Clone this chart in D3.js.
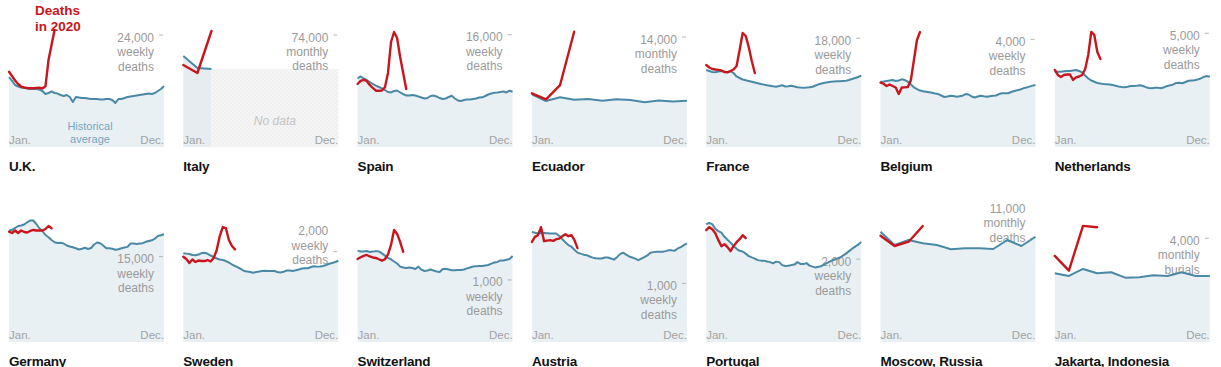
<!DOCTYPE html>
<html>
<head>
<meta charset="utf-8">
<script src="https://cdn.jsdelivr.net/npm/d3@7"></script>
<style>
    body { margin: 0; background: #fff; }
    #chart text { font-family: "Liberation Sans", Arial, sans-serif; }
</style>
</head>
<body>
<div id="chart"></div>
<script>
// chart.js

const places = ["U.K.", "Italy", "Spain", "Ecuador", "France", "Belgium", "Netherlands",
    "Germany", "Sweden", "Switzerland", "Austria", "Portugal", "Moscow, Russia", "Jakarta, Indonesia"];
const frequency = ["weekly", "monthly", "weekly", "monthly", "weekly", "weekly", "weekly",
    "weekly", "weekly", "weekly", "weekly", "weekly", "monthly", "monthly"];
const unitWord = ["deaths", "deaths", "deaths", "deaths", "deaths", "deaths", "deaths",
    "deaths", "deaths", "deaths", "deaths", "deaths", "deaths", "burials"];
const tickValues = [24000, 74000, 16000, 14000, 18000, 4000, 5000, 15000, 2000, 1000, 1000, 2000, 11000, 4000];
const scaleTop = [24860, 76640, 16530, 14770, 19210, 4310, 5100, 20390, 2570, 1870, 1980, 2800, 12310, 4470];

const ukHistorical = [15000,14150,13290,12970,12750,12640,12540,12430,12430,12430,12320,12000,11360,11570,11890,11570,11460,11140,10930,11140,10710,9640,10710,10610,10500,10500,10390,10290,10290,10290,10180,10180,10290,10290,10070,9430,10290,10290,10500,10710,10820,10930,11040,11140,11250,11360,11460,11360,11570,12000,12430,13070];
const ukDeaths2020 = [16140,15210,14250,13500,12960,12750,12640,12580,12580,12640,12710,12540,13000,18640,21860,25070];

const italyHistorical = [60120, 52200, 51530];
const italyDeaths2020 = [54180, 48890, 76640];

const spainHistorical = [9790,10050,9760,9550,9260,8980,8760,8550,8340,8120,7840,7770,7980,8050,7770,7550,7340,7340,7410,7340,7200,7050,6910,6980,7270,7340,7200,6980,6840,6910,7130,7310,6910,6630,6560,6700,6770,6770,6840,6910,7050,7080,7270,7480,7620,7720,7770,7840,7910,7770,8020,7880];
const spainDeaths2020 = [8980,9410,9550,9410,8840,8410,8020,8020,8050,8510,10550,14960,16390,15530,12830,10550,8270];

const ecuadorHistorical = [6710,5860,6330,6020,6110,5890,6070,5980,5690,5920,5790,5890];
const ecuadorDeaths2020 = [6840,6070,7890,14680];

const franceHistorical = [12750,12590,12420,12370,12500,12590,12450,12420,12550,12250,11680,11430,11180,11050,10930,10800,10670,10550,10430,10330,10220,10140,10050,9990,10100,10230,10020,10050,10150,10020,9900,9850,9820,9850,9900,9970,10180,10380,10520,10630,10730,10800,10850,10880,10900,10930,10960,11100,11260,11430,11590,11810];
const franceDeaths2020 = [13580,13170,12920,12830,12780,12670,12420,12370,12590,12830,13410,16060,18880,18380,16560,14240,12250];

const belgiumHistorical = [2425,2433,2451,2470,2488,2451,2470,2514,2488,2425,2321,2217,2154,2098,2069,2050,2032,2013,1987,1968,1913,1857,1876,1902,1894,1868,1887,1905,1968,1950,1876,1838,1876,1902,1883,1868,1887,1902,1913,1968,1994,1994,1998,2043,2080,2110,2136,2180,2210,2243,2280,2303];
const belgiumDeaths2020 = [2388,2351,2266,2321,2266,2210,1968,2210,2217,2228,2488,3231,3974,4271];

const netherlandsHistorical = [3312,3312,3312,3329,3342,3342,3364,3386,3342,3277,3145,3013,2925,2867,2815,2788,2771,2758,2744,2727,2692,2656,2639,2626,2652,2683,2683,2692,2718,2683,2630,2595,2586,2604,2608,2586,2630,2683,2714,2749,2815,2823,2802,2859,2911,2925,2938,2969,3013,3079,3123,3092];
const netherlandsDeaths2020 = [3386,3167,3079,3167,3189,3189,2947,3065,3101,3167,3430,4046,5058,4926,4178,3870];

const germanyHistorical = [19567,19725,20041,20393,20481,20657,21043,21360,21360,20744,19988,19514,18811,18424,17932,17527,17404,17439,17316,16965,16789,16666,16472,16262,16402,16560,16349,16525,17141,17492,17351,16965,16472,16472,16385,16209,16297,16472,16596,16719,17316,17316,17228,17299,17369,17615,17756,17879,18160,18635,18758,18934];
const germanyDeaths2020 = [19391,19162,19602,19162,19602,19338,19250,19514,19690,19602,19602,19602,19865,20393,19988];

const swedenHistorical = [1965,1958,1949,1927,1923,1938,1971,1976,1954,1916,1883,1850,1827,1816,1794,1761,1721,1683,1655,1613,1573,1562,1551,1535,1551,1562,1573,1577,1573,1573,1573,1551,1539,1555,1584,1584,1573,1588,1606,1628,1632,1632,1661,1677,1670,1675,1683,1706,1734,1750,1772,1801];
const swedenDeaths2020 = [1889,1838,1750,1827,1772,1805,1794,1794,1816,1783,1861,2038,2348,2547,2525,2259,2126,2053];

const switzerlandHistorical = [1473,1460,1460,1468,1452,1457,1465,1460,1428,1392,1355,1331,1298,1266,1215,1200,1194,1202,1194,1177,1215,1166,1145,1153,1169,1153,1137,1129,1177,1181,1169,1157,1157,1161,1161,1169,1186,1202,1216,1223,1226,1226,1234,1242,1263,1282,1290,1315,1313,1326,1339,1387];
const switzerlandDeaths2020 = [1339,1366,1387,1403,1379,1363,1355,1334,1311,1334,1411,1565,1807,1742,1613,1452];

const austriaHistorical = [1880,1866,1852,1861,1861,1857,1852,1852,1852,1810,1755,1704,1653,1627,1576,1525,1508,1491,1482,1460,1440,1428,1426,1426,1443,1443,1426,1406,1448,1500,1525,1491,1460,1443,1423,1397,1423,1448,1477,1525,1534,1539,1539,1539,1551,1566,1564,1559,1597,1619,1653,1682];
const austriaDeaths2020 = [1709,1794,1823,1960,1721,1730,1738,1726,1755,1764,1806,1840,1806,1823,1738,1602];

const portugalHistorical = [2844,2873,2844,2735,2675,2639,2538,2470,2398,2318,2249,2200,2186,2133,2073,2041,2012,1976,1964,1964,1945,1928,1897,1940,1928,1856,1836,1841,1856,1868,1928,1885,1880,1904,1844,1820,1800,1817,1836,1880,1914,1952,1986,2010,2039,2085,2133,2193,2253,2302,2350,2417];
const portugalDeaths2020 = [2699,2772,2723,2627,2458,2314,2362,2290,2193,2314,2410,2482,2579,2506];

const moscowHistorical = [11703,10292,10822,10472,10292,9835,9942,9942,9867,10822,10186,11172];
const moscowDeaths2020 = [11278,10186,10642,12308];

const jakartaHistorical = [2650,2546,2816,2650,2688,2480,2495,2573,2546,2688,2546,2546];
const jakartaDeaths2020 = [3317,2750,4474,4424];

const historical = [ukHistorical, italyHistorical, spainHistorical, ecuadorHistorical, franceHistorical,
    belgiumHistorical, netherlandsHistorical, germanyHistorical, swedenHistorical, switzerlandHistorical,
    austriaHistorical, portugalHistorical, moscowHistorical, jakartaHistorical];
const deaths2020 = [ukDeaths2020, italyDeaths2020, spainDeaths2020, ecuadorDeaths2020, franceDeaths2020,
    belgiumDeaths2020, netherlandsDeaths2020, germanyDeaths2020, swedenDeaths2020, switzerlandDeaths2020,
    austriaDeaths2020, portugalDeaths2020, moscowDeaths2020, jakartaDeaths2020];

// layout only: how many lines the tick label is lifted above its tick
const labelLift = [0, 0, 0, 0, 0, 0, 0, 0, 1.6, 0, 0, 0, 2.2, 0];

const red = '#c8161d', blue = '#4a89a6', fill = '#e9f0f4', grey = '#9a9a9a';
const plotW = 155, plotH = 116, colStep = 174.3, rowStep = 195;
const margin = { left: 9, top: 31 };

const svg = d3.select("#chart").append("svg")
    .attr("width", 1221).attr("height", 367);

const defs = svg.append("defs");
const pat = defs.append("pattern")
    .attr("id", "nodata").attr("patternUnits", "userSpaceOnUse")
    .attr("width", 4).attr("height", 4);
pat.append("rect").attr("width", 4).attr("height", 4).attr("fill", "#f6f6f6");
pat.append("path").attr("d", "M0,4 L4,0 M0,0 L4,4").attr("stroke", "#ededed").attr("stroke-width", 0.7);

places.forEach((name, i) => {
    const col = i % 7, row = Math.floor(i / 7);
    const g = svg.append("g")
        .attr("transform", `translate(${margin.left + col * colStep}, ${margin.top + row * rowStep})`);

    const hist = historical[i], cur = deaths2020[i];
    const n = frequency[i] === "weekly" ? 52 : 12;
    const x = d3.scaleLinear().domain([0, n - 1]).range([0, plotW]);
    const y = d3.scaleLinear().domain([0, scaleTop[i]]).range([plotH, 0]);

    const area = d3.area().x((d, j) => x(j)).y0(plotH).y1(d => y(d));
    const line = d3.line().x((d, j) => x(j)).y(d => y(d));

    g.append("path").datum(hist).attr("d", area)
        .attr("fill", hist.length < n ? "#e6ecef" : fill);

    if (hist.length < n) {
        const last = hist.length - 1;
        g.append("rect")
            .attr("x", x(last)).attr("y", y(hist[last]))
            .attr("width", x(n - 1) - x(last)).attr("height", plotH - y(hist[last]))
            .attr("fill", "url(#nodata)");
        g.append("text")
            .attr("x", (x(last) + x(n - 1)) / 2).attr("y", plotH - 22)
            .attr("text-anchor", "middle")
            .style("font-size", "12px").style("font-style", "italic").style("fill", "#c4c4c4")
            .text("No data");
    }

    // month labels
    g.append("text").attr("x", 0).attr("y", plotH - 3)
        .style("font-size", "11.5px").style("fill", "#a3a3a3").text("Jan.");
    g.append("text").attr("x", plotW).attr("y", plotH - 3).attr("text-anchor", "end")
        .style("font-size", "11.5px").style("fill", "#a3a3a3").text("Dec.");

    // y tick and its label
    const ty = y(tickValues[i]);
    g.append("line")
        .attr("x1", plotW - 5).attr("x2", plotW - 1)
        .attr("y1", ty).attr("y2", ty)
        .attr("stroke", "#b5b5b5").attr("stroke-width", 1);
    const lines = [d3.format(",")(tickValues[i]), frequency[i], unitWord[i]];
    const baseY = ty + 6.5 - labelLift[i] * 14.5;
    g.selectAll(".tick-label").data(lines).enter().append("text")
        .attr("class", "tick-label")
        .attr("x", plotW - 10).attr("y", (d, j) => baseY + j * 14.5)
        .attr("text-anchor", "end")
        .style("font-size", "12px").style("fill", grey)
        .text(d => d);

    g.append("path").datum(hist).attr("d", line)
        .attr("fill", "none").attr("stroke", blue).attr("stroke-width", 2)
        .attr("stroke-linejoin", "round");

    g.append("path").datum(cur).attr("d", line)
        .attr("fill", "none").attr("stroke", red).attr("stroke-width", 2.4)
        .attr("stroke-linejoin", "round").attr("stroke-linecap", "round");

    g.append("text").attr("x", 0).attr("y", plotH + 23.5)
        .style("font-size", "13.5px").style("font-weight", "bold").style("fill", "#121212")
        .style("letter-spacing", "-0.2px")
        .text(name);

    if (i === 0) {
        g.append("text").attr("x", 26).attr("y", -16.5)
            .style("font-size", "13.5px").style("font-weight", "bold").style("fill", red)
            .text("Deaths");
        g.append("text").attr("x", 26).attr("y", -0.5)
            .style("font-size", "13.5px").style("font-weight", "bold").style("fill", red)
            .text("in 2020");
        g.append("text").attr("x", 81).attr("y", 98.5).attr("text-anchor", "middle")
            .style("font-size", "11px").style("fill", "#74a6be").text("Historical");
        g.append("text").attr("x", 81).attr("y", 111.5).attr("text-anchor", "middle")
            .style("font-size", "11px").style("fill", "#74a6be").text("average");
    }
});
</script>
</body>
</html>
